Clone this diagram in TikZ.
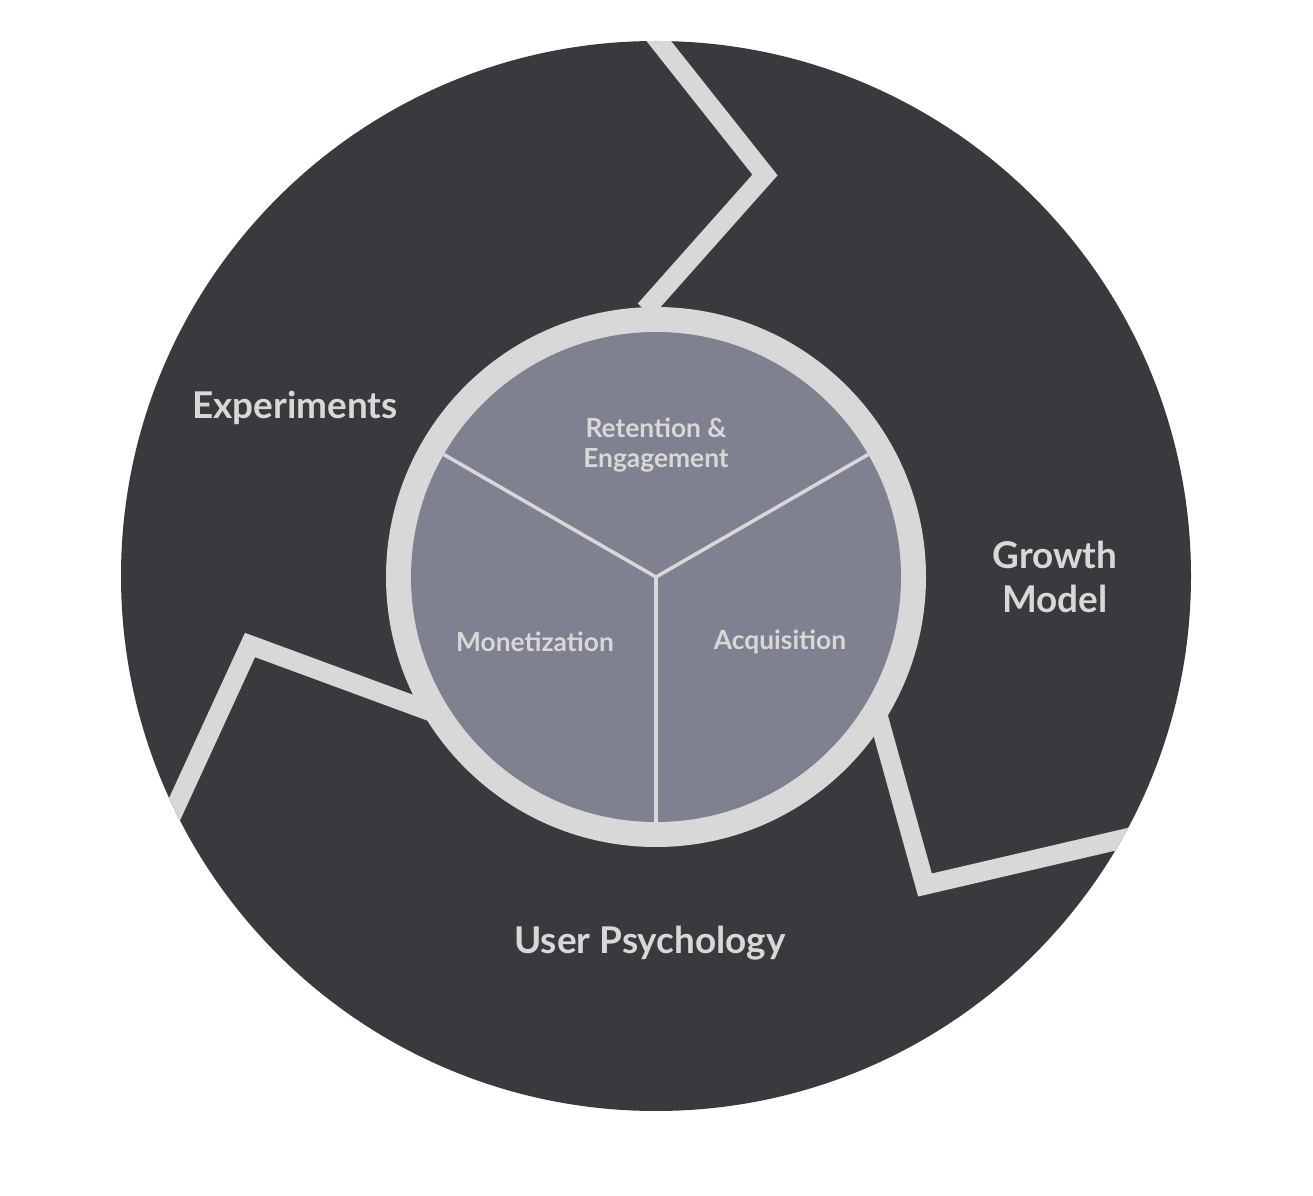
\documentclass[tikz,border=0pt]{standalone}
\usepackage{fontspec}
\setmainfont{Lato}
\usetikzlibrary{calc}
\definecolor{dark}{HTML}{3A3A3E}
\definecolor{ring}{HTML}{D8D8D8}
\definecolor{core}{HTML}{7F8191}
\begin{document}
\begin{tikzpicture}[x=0.02cm,y=-0.02cm,
  band/.style={ring,line width=11pt,line join=miter},
  outer/.style={text=ring,font=\bfseries\fontsize{21}{25}\selectfont,align=center},
  inner/.style={text=ring,font=\bfseries\fontsize{15}{17}\selectfont,align=center}]
\useasboundingbox (0,0) rectangle (1313,1196);
\fill[white] (0,0) rectangle (1313,1196);
\fill[dark] (656,576) circle (535*0.02cm);
\begin{scope}
\clip (656,576) circle (535*0.02cm);
\draw[band] (650,30) -- (765,175) -- (645,310);
\draw[band] (165,830) -- (250,645) -- (440,715);
\draw[band] (875,705) -- (925,885) -- (1140,835);
\end{scope}
\fill[ring] (656,577) circle (270*0.02cm);
\fill[core] (656,577) circle (245*0.02cm);
\coordinate (c) at (656,577);
\coordinate (p1) at ($(c)+(150:245*0.02cm)$);
\coordinate (p2) at ($(c)+(30:245*0.02cm)$);
\coordinate (p3) at ($(c)+(270:245*0.02cm)$);
\draw[ring,line width=2pt] (c) -- (p1) (c) -- (p2) (c) -- (p3);
\node[inner] (re) at (656,445) {Retention \&\\Engagement};
\node[inner] (mo) at (535,642) {Monetization};
\node[inner] (ac) at (780,642) {Acquisition};
\node[outer] (ex) at (295,408) {Experiments};
\node[outer] (gm) at (1055,577) {Growth\\Model};
\node[outer] (up) at (650,943) {User Psychology};
\end{tikzpicture}
\end{document}
